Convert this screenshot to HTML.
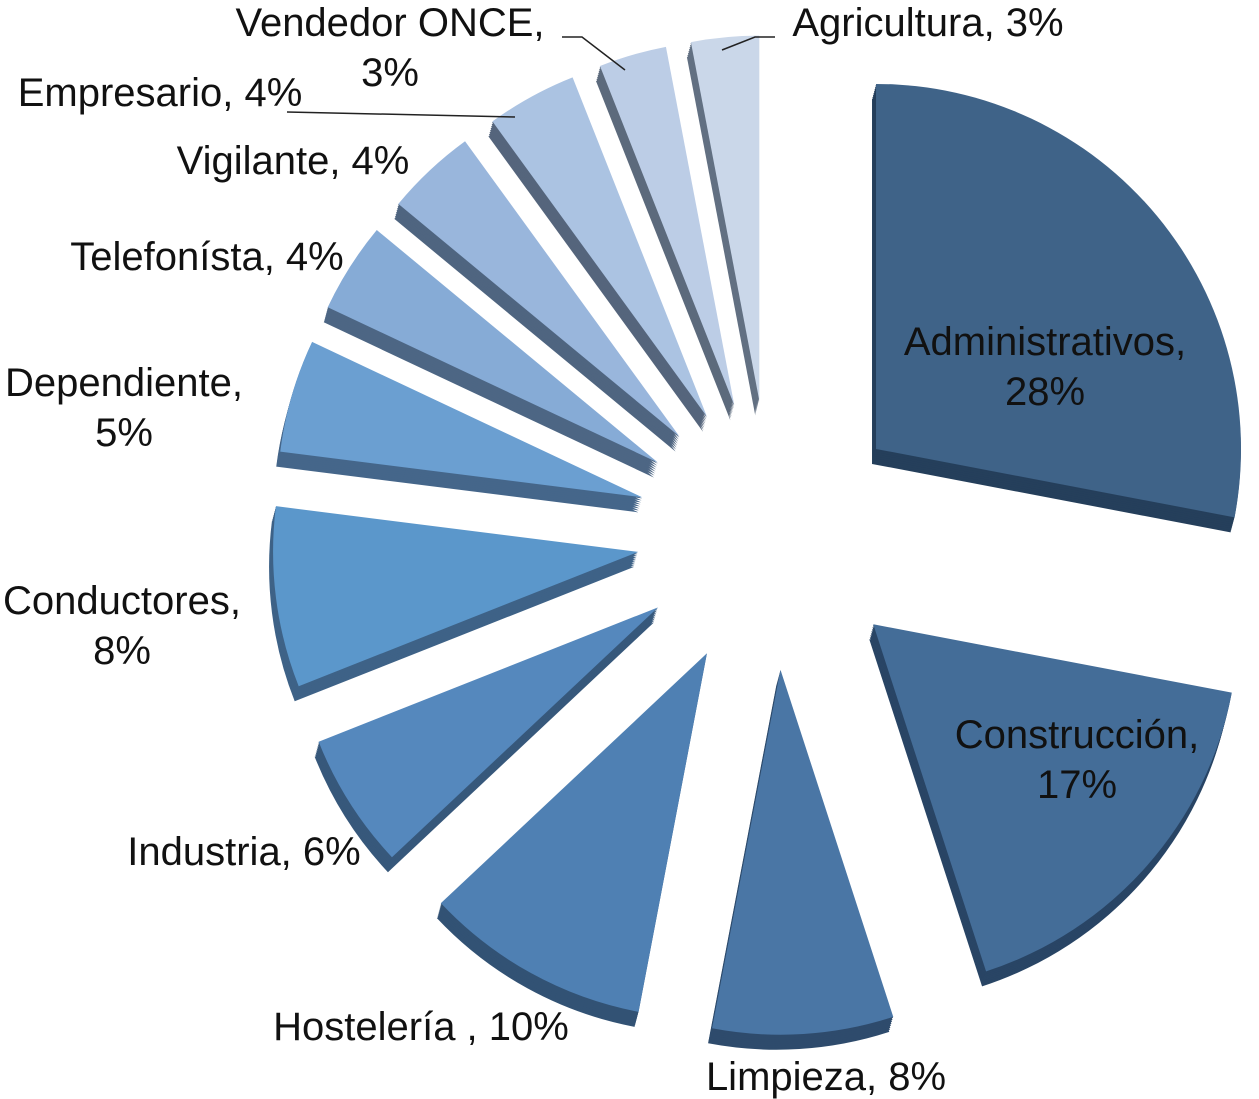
<!DOCTYPE html>
<html><head><meta charset="utf-8"><style>
html,body{margin:0;padding:0;background:#fff;}
svg{display:block;}
text{font-family:"Liberation Sans",sans-serif;font-size:40px;fill:#111;}
</style></head><body>
<svg id="chart" width="1259" height="1099" viewBox="0 0 1259 1099" xmlns="http://www.w3.org/2000/svg"></svg>
<script>
const categories = ["Administrativos","Construcción","Limpieza","Hostelería ","Industria","Conductores","Dependiente","Telefonísta","Vigilante","Empresario","Vendedor ONCE","Agricultura"];
const values = [28,17,8,10,6,8,5,4,4,4,3,3];
const colors = ["#3f6388","#446d98","#4a76a5","#4f80b3","#5588bd","#5b97cb","#6b9fd1","#86abd6","#99b6dc","#abc3e2","#bccde6","#cad7e9"];
const sides = ["#253f5b","#294565","#2e4b6c","#325274","#37587b","#3e6287","#45668a","#4d6684","#4f6580","#55657c","#5c6a7c","#627082"];
const labelLines = [["Administrativos,","28%"],["Construcción,","17%"],["Limpieza, 8%"],["Hostelería , 10%"],["Industria, 6%"],["Conductores,","8%"],["Dependiente,","5%"],["Telefonísta, 4%"],["Vigilante, 4%"],["Empresario, 4%"],["Vendedor ONCE,","3%"],["Agricultura, 3%"]];
const labelPos = [[1045,355],[1077,748],[826,1090],[421,1040],[244,865],[122,614],[124,396],[207,270],[293,174],[160,106],[390,36],[928,36]];

const svg = document.getElementById('chart');
const NS = 'http://www.w3.org/2000/svg';
const cx = 772, cy = 535, R = 365, D = 135, dx = -4, dy = 15;
const total = values.reduce((a,b)=>a+b,0);
function pt(x,y,a,r){return [x+r*Math.sin(a), y-r*Math.cos(a)];}
function slicePath(x,y,a0,a1){
  const p0=pt(x,y,a0,R), p1=pt(x,y,a1,R);
  const large = (a1-a0)>Math.PI?1:0;
  return `M${x},${y} L${p0[0]},${p0[1]} A${R},${R} 0 ${large} 1 ${p1[0]},${p1[1]} Z`;
}
let cum = 0;
const geo = values.map(v=>{const a0=cum/total*2*Math.PI; cum+=v; const a1=cum/total*2*Math.PI; return [a0,a1];});
geo.forEach((g,i)=>{
  const mid=(g[0]+g[1])/2; const o=pt(cx,cy,mid,D);
  for(let k=dy;k>0;k-=2){
    const p=document.createElementNS(NS,'path');
    p.setAttribute('d',slicePath(o[0]+dx*k/dy,o[1]+k,g[0],g[1]));
    p.setAttribute('fill',sides[i]);
    
    
    svg.appendChild(p);
  }
});
geo.forEach((g,i)=>{
  const mid=(g[0]+g[1])/2; const o=pt(cx,cy,mid,D);
  const p=document.createElementNS(NS,'path');
  p.setAttribute('d',slicePath(o[0],o[1],g[0],g[1]));
  p.setAttribute('fill',colors[i]);
  
  
  svg.appendChild(p);
});
[[562,37,582,37,625,70],[287,112,287,112,515,117],[775,37,755,37,722,50]].forEach(l=>{
  const pl=document.createElementNS(NS,'polyline');
  pl.setAttribute('points',`${l[0]},${l[1]} ${l[2]},${l[3]} ${l[4]},${l[5]}`);
  pl.setAttribute('fill','none');pl.setAttribute('stroke','#222');pl.setAttribute('stroke-width','1.5');
  
  
  svg.appendChild(pl);
});
labelLines.forEach((ls,i)=>{
  const t=document.createElementNS(NS,'text');
  t.setAttribute('x',labelPos[i][0]);t.setAttribute('y',labelPos[i][1]);
  t.setAttribute('text-anchor','middle');
  ls.forEach((s,j)=>{const ts=document.createElementNS(NS,'tspan');ts.setAttribute('x',labelPos[i][0]);ts.setAttribute('dy',j?'50':'0');ts.textContent=s;t.appendChild(ts);});
  
  
  svg.appendChild(t);
});
</script>
</body></html>
